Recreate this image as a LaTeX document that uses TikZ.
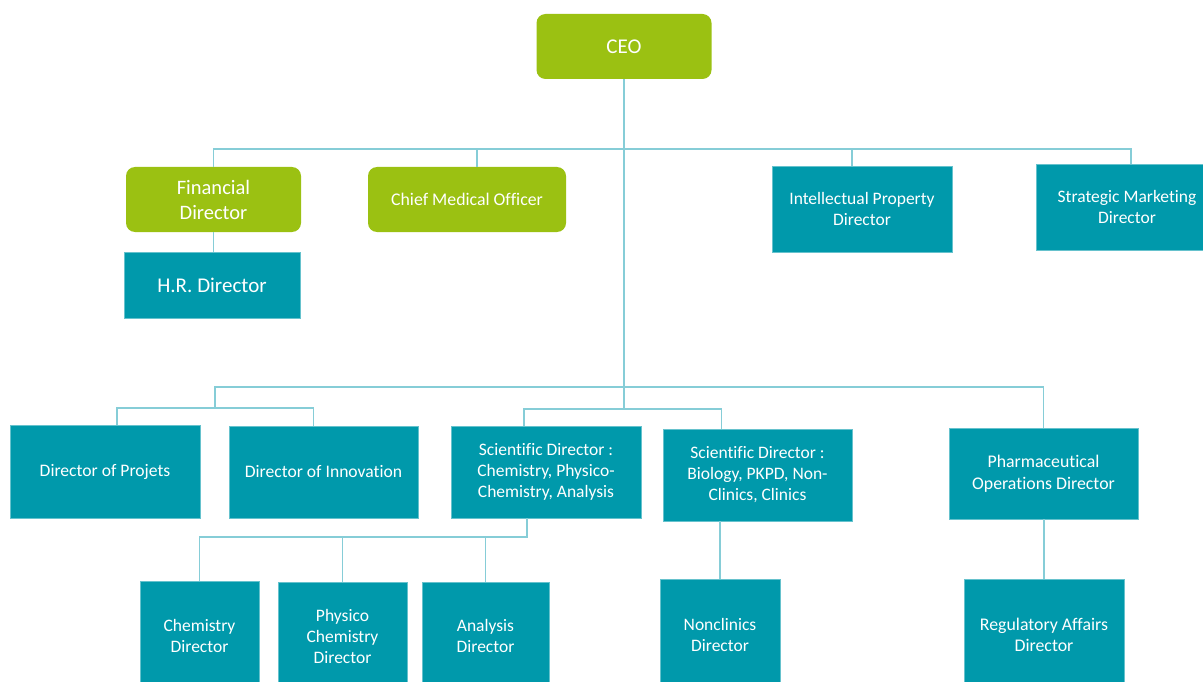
\documentclass[tikz,border=0pt]{standalone}
\usepackage{fontspec}
\setmainfont[Ligatures={NoCommon}]{Carlito}
\definecolor{tealbox}{HTML}{0099AB}
\definecolor{greenbox}{HTML}{9BC112}
\definecolor{connc}{HTML}{86CDD7}
\begin{document}
\begin{tikzpicture}[x=1pt,y=-1pt,
  gbox/.style={fill=greenbox,rounded corners=9pt,text=white,align=center,inner sep=0pt},
  tbox/.style={fill=tealbox,draw=tealbox!60!white,line width=0.5pt,text=white,align=center,inner sep=0pt},
  conn/.style={draw=connc,line width=1.3pt}]
\useasboundingbox (0,0) rectangle (1203,682);
% level 0
\node[gbox,minimum width=175pt,minimum height=65pt,font=\fontsize{21}{24}\selectfont] (ceo) at (624,46.5) {CEO};
% level 1
\node[gbox,minimum width=175pt,minimum height=65pt,font=\fontsize{20.5}{25}\selectfont] (fin) at (213.5,199.5) {Financial\\Director};
\node[gbox,minimum width=198pt,minimum height=65pt,font=\fontsize{17.8}{21}\selectfont] (cmo) at (467,199.5) {Chief Medical Officer};
\node[tbox,minimum width=176pt,minimum height=66pt,font=\fontsize{21}{24}\selectfont] (hr) at (212,285) {H.R. Director};
\node[tbox,minimum width=180pt,minimum height=86pt,font=\fontsize{17.5}{21}\selectfont] (ip) at (862,209) {Intellectual Property\\Director};
\node[tbox,minimum width=182pt,minimum height=86pt,font=\fontsize{17.5}{21}\selectfont] (sm) at (1127,207) {Strategic Marketing\\Director};
% level 2
\node[tbox,minimum width=190pt,minimum height=93pt,font=\fontsize{17.6}{21}\selectfont] (proj) at (105,471.5) {Director of Projets};
\node[tbox,minimum width=189pt,minimum height=92pt,font=\fontsize{17.6}{21}\selectfont] (inno) at (323.5,472) {Director of Innovation};
\node[tbox,minimum width=190pt,minimum height=92pt,font=\fontsize{17.5}{21}\selectfont] (scic) at (546,472) {Scientific Director :\\Chemistry, Physico-\\Chemistry, Analysis};
\node[tbox,minimum width=189pt,minimum height=92pt,font=\fontsize{17.5}{21}\selectfont] (scib) at (757.5,475) {Scientific Director :\\Biology, PKPD, Non-\\Clinics, Clinics};
\node[tbox,minimum width=189pt,minimum height=91pt,font=\fontsize{17.8}{22}\selectfont] (pharm) at (1043.5,473.5) {Pharmaceutical\\Operations Director};
% level 3
\node[tbox,minimum width=119pt,minimum height=109pt,font=\fontsize{17.5}{21}\selectfont] (chem) at (199.5,635.5) {Chemistry\\Director};
\node[tbox,minimum width=129pt,minimum height=108pt,font=\fontsize{17.5}{21}\selectfont] (phys) at (342.5,636) {Physico\\Chemistry\\Director};
\node[tbox,minimum width=127pt,minimum height=108pt,font=\fontsize{17.5}{21}\selectfont] (anal) at (485.5,636) {Analysis\\Director};
\node[tbox,minimum width=120pt,minimum height=111pt,font=\fontsize{17.5}{21}\selectfont] (nonc) at (720,634.5) {Nonclinics\\Director};
\node[tbox,minimum width=160pt,minimum height=111pt,font=\fontsize{17.8}{21}\selectfont] (reg) at (1044,634.5) {Regulatory Affairs\\Director};
% bus coordinates
\coordinate (topbus) at (624,149);
\coordinate (lowbus) at (215,387);
\coordinate (leftbus) at (215,408);
\coordinate (scibus) at (624,409);
\coordinate (botbus) at (527,537);
% connectors
\draw[conn] (ceo.south) -- (ceo.south |- scibus);
\draw[conn] (fin.north) -- (fin.north |- topbus) -- ([xshift=4pt]sm.north |- topbus) -- ([xshift=4pt]sm.north);
\draw[conn] ([xshift=10pt]cmo.north) -- ([xshift=10pt]cmo.north |- topbus);
\draw[conn] ([xshift=-10pt]ip.north) -- ([xshift=-10pt]ip.north |- topbus);
\draw[conn] (fin.south) -- (fin.south |- hr.north);
\draw[conn] (leftbus) -- (lowbus) -- (pharm.north |- lowbus) -- (pharm.north);
\draw[conn] ([xshift=12pt]proj.north) -- ([xshift=12pt]proj.north |- leftbus) -- ([xshift=-10pt]inno.north |- leftbus) -- ([xshift=-10pt]inno.north);
\draw[conn] ([xshift=-22pt]scic.north) -- ([xshift=-22pt]scic.north |- scibus) -- ([xshift=-36pt]scib.north |- scibus) -- ([xshift=-36pt]scib.north);
\draw[conn] ([xshift=-19pt]scic.south) -- (botbus) -- (chem.north |- botbus) -- (chem.north);
\draw[conn] (phys.north |- botbus) -- (phys.north);
\draw[conn] (anal.north |- botbus) -- (anal.north);
\draw[conn] (nonc.north) -- (nonc.north |- scib.south);
\draw[conn] (reg.north) -- (reg.north |- pharm.south);
\end{tikzpicture}
\end{document}
